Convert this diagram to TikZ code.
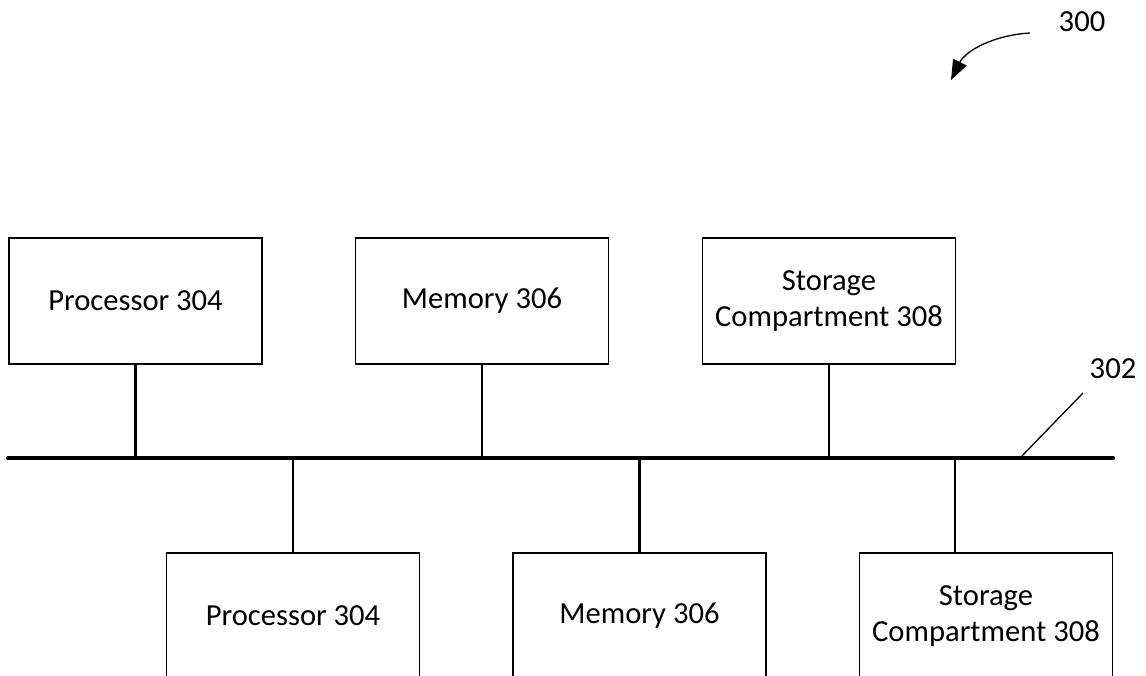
\documentclass[tikz,border=0pt]{standalone}
\usepackage{fontspec}
\setmainfont{Carlito}
\usetikzlibrary{arrows.meta}
\begin{document}
\begin{tikzpicture}[x=1pt,y=-1pt,
  box/.style={draw, line width=1.2pt, minimum width=253pt, minimum height=126pt, inner sep=0pt, align=center,
    font=\fontsize{30.6}{36.5}\selectfont},
  link/.style={line width=2.7pt},
  busline/.style={line width=4.2pt, line cap=round},
  leader/.style={line width=1.3pt},
  lbl/.style={font=\fontsize{30.6}{36.5}\selectfont, inner sep=0pt}]
\clip (0,0) rectangle (1146,676);
% top row
\node[box] (p1) at (135.5,301) {Processor 304};
\node[box] (m1) at (482,301) {Memory 306};
\node[box] (s1) at (829,301) {Storage\\Compartment 308};
% bottom row
\node[box] (p2) at (293,616) {Processor 304};
\node[box] (m2) at (639.5,616) {Memory 306};
\node[box] (s2) at (986,616) {Storage\\Compartment 308};
% bus
\coordinate (bl) at (8,458);
\coordinate (br) at (1113,458);
\coordinate (s2tap) at (955,458);
\coordinate (lead) at (1020,458);
\draw[busline] (bl) -- (br);
\draw[link] (p1.south) -- (p1.south |- bl);
\draw[link] (m1.south) -- (m1.south |- bl);
\draw[link] (s1.south) -- (s1.south |- bl);
\draw[link] (p2.north |- bl) -- (p2.north);
\draw[link] (m2.north |- bl) -- (m2.north);
\draw[link] (s2tap) -- (s2tap |- s2.north);
% labels
\node[lbl] (l302) at (1113,369) {302};
\coordinate (l302end) at (1083,393);
\draw[leader] (lead) -- (l302end);
\node[lbl] (l300) at (1082,22) {300};
\coordinate (a0) at (1030,33);
\coordinate (a1) at (951,80);
\draw[leader, -{Triangle[length=20pt,width=15pt]}] (a0) .. controls (995,35) and (966,50) .. (a1);
\end{tikzpicture}
\end{document}
